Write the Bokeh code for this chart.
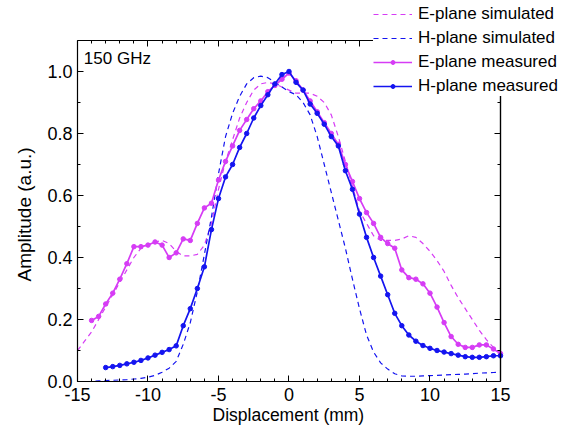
from bokeh.plotting import figure
from bokeh.models import (LinearAxis, Range1d, NumeralTickFormatter, SingleIntervalTicker, FixedTicker,
                          Legend, LegendItem, Label, Title)
from bokeh.embed import file_html
from bokeh.resources import INLINE

# ---------------- data ----------------
x_sim = [-15.0, -14.5, -14.0, -13.5, -13.0, -12.5, -12.0, -11.5, -11.0, -10.5, -10.0, -9.5, -9.0, -8.5,
         -8.0, -7.5, -7.0, -6.5, -6.0, -5.5, -5.0, -4.5, -4.0, -3.5, -3.0, -2.5, -2.0, -1.5, -1.0, -0.5,
         0.0, 0.5, 1.0, 1.5, 2.0, 2.5, 3.0, 3.5, 4.0, 4.5, 5.0, 5.5, 6.0, 6.5, 7.0, 7.5, 8.0, 8.5, 9.0,
         9.5, 10.0, 10.5, 11.0, 11.5, 12.0, 12.5, 13.0, 13.5, 14.0, 14.5, 15.0]
e_sim = [0.10, 0.13, 0.16, 0.20, 0.24, 0.28, 0.32, 0.36, 0.40, 0.43, 0.44, 0.45, 0.455, 0.445,
         0.42, 0.405, 0.405, 0.41, 0.44, 0.51, 0.62, 0.71, 0.78, 0.85, 0.90, 0.94, 0.96, 0.965, 0.96, 0.95,
         0.94, 0.93, 0.93, 0.93, 0.92, 0.90, 0.86, 0.79, 0.71, 0.63, 0.55, 0.51, 0.47, 0.455, 0.455, 0.455,
         0.46, 0.47, 0.465, 0.445, 0.42, 0.39, 0.355, 0.31, 0.27, 0.235, 0.20, 0.165, 0.135, 0.11, 0.09]
h_sim = [0.0, 0.0, 0.0, 0.002, 0.003, 0.004, 0.005, 0.006, 0.008, 0.010, 0.014, 0.02, 0.03, 0.043,
         0.065, 0.12, 0.19, 0.29, 0.41, 0.53, 0.67, 0.79, 0.865, 0.92, 0.96, 0.98, 0.985, 0.98, 0.965, 0.95,
         0.935, 0.925, 0.90, 0.86, 0.79, 0.70, 0.61, 0.52, 0.43, 0.33, 0.235, 0.15, 0.095, 0.06, 0.04, 0.025,
         0.018, 0.017, 0.017, 0.018, 0.019, 0.02, 0.021, 0.022, 0.023, 0.024, 0.025, 0.027, 0.028, 0.029, 0.03]

x_e_meas = [-14.0, -13.5, -13.0, -12.5, -12.0, -11.5, -11.0, -10.5, -10.0, -9.5, -9.0, -8.5, -8.0, -7.5,
            -7.0, -6.5, -6.0, -5.5, -5.0, -4.5, -4.0, -3.5, -3.0, -2.5, -2.0, -1.5, -1.0, -0.5, 0.0, 0.5,
            1.0, 1.5, 2.0, 2.5, 3.0, 3.5, 4.0, 4.5, 5.0, 5.5, 6.0, 6.5, 7.0, 7.5, 8.0, 8.5, 9.0, 9.5, 10.0,
            10.5, 11.0, 11.5, 12.0, 12.5, 13.0, 13.5, 14.0, 14.5, 15.0]
e_meas = [0.197, 0.21, 0.25, 0.285, 0.33, 0.38, 0.435, 0.435, 0.44, 0.45, 0.44, 0.40, 0.415, 0.46,
          0.455, 0.51, 0.56, 0.575, 0.65, 0.71, 0.76, 0.81, 0.845, 0.88, 0.905, 0.935, 0.955, 0.975, 0.995, 0.97,
          0.94, 0.905, 0.87, 0.835, 0.80, 0.765, 0.70, 0.645, 0.59, 0.545, 0.51, 0.465, 0.445, 0.43, 0.36, 0.335,
          0.33, 0.315, 0.285, 0.24, 0.19, 0.145, 0.12, 0.11, 0.11, 0.118, 0.118, 0.105, 0.09]

x_h_meas = [-13.0, -12.5, -12.0, -11.5, -11.0, -10.5, -10.0, -9.5, -9.0, -8.5, -8.0, -7.5, -7.0, -6.5,
            -6.0, -5.5, -5.0, -4.5, -4.0, -3.5, -3.0, -2.5, -2.0, -1.5, -1.0, -0.5, 0.0, 0.5, 1.0, 1.5,
            2.0, 2.5, 3.0, 3.5, 4.0, 4.5, 5.0, 5.5, 6.0, 6.5, 7.0, 7.5, 8.0, 8.5, 9.0, 9.5, 10.0, 10.5,
            11.0, 11.5, 12.0, 12.5, 13.0, 13.5, 14.0, 14.5, 15.0]
h_meas = [0.045, 0.048, 0.052, 0.057, 0.062, 0.068, 0.076, 0.085, 0.094, 0.103, 0.115, 0.18, 0.235, 0.30,
          0.37, 0.49, 0.59, 0.66, 0.70, 0.755, 0.80, 0.85, 0.89, 0.925, 0.96, 0.99, 1.0, 0.965, 0.94, 0.895,
          0.865, 0.83, 0.79, 0.76, 0.68, 0.62, 0.54, 0.465, 0.40, 0.34, 0.28, 0.22, 0.18, 0.15, 0.13, 0.116,
          0.107, 0.10, 0.095, 0.09, 0.085, 0.08, 0.078, 0.078, 0.08, 0.083, 0.083]

labels = ["E-plane simulated", "H-plane simulated", "E-plane measured", "H-plane measured"]
annotation = "150 GHz"
x_title = "Displacement (mm)"
y_title = "Amplitude (a.u.)"

X_MIN, X_MAX = -15, 15
Y_MIN, Y_MAX = 0.0, 1.1

MAG = "#D63CF5"
BLUE = "#1414F0"
FONT = "Liberation Sans"

# frame covers the whole area right/top of the axes so the legend is not clipped;
# the visible box is drawn by axes with bounds / fixed locations
p = figure(width=564, height=431, output_backend="svg", toolbar_location=None,
           x_range=Range1d(X_MIN, 19.54), y_range=Range1d(Y_MIN, 1.229),
           min_border_left=77, min_border_right=0, min_border_top=0, min_border_bottom=50)
p.xgrid.visible = False
p.ygrid.visible = False
p.outline_line_color = None
p.background_fill_color = "white"
p.border_fill_color = "white"

r1 = p.line(x_sim, e_sim, line_color=MAG, line_width=1.2, line_dash="5 4")
r2 = p.line(x_sim, h_sim, line_color=BLUE, line_width=1.2, line_dash="5 4")
r3 = p.line(x_e_meas, e_meas, line_color=MAG, line_width=1.7)
r3b = p.scatter(x_e_meas, e_meas, size=4.5, marker="circle", fill_color=MAG, line_color=MAG)
r4 = p.line(x_h_meas, h_meas, line_color=BLUE, line_width=1.7)
r4b = p.scatter(x_h_meas, h_meas, size=4.5, marker="circle", fill_color=BLUE, line_color=BLUE)

p.add_layout(Label(x=-14.55, y=1.042, text=annotation, text_font=FONT, text_font_size="17px",
                   text_baseline="middle", text_color="black"))

def base_axis(ax):
    ax.major_tick_in = 6
    ax.major_tick_out = 0
    ax.minor_tick_in = 3
    ax.minor_tick_out = 0
    ax.axis_line_color = "black"
    ax.axis_line_width = 1.2
    ax.major_tick_line_color = "black"
    ax.minor_tick_line_color = "black"
    ax.major_label_text_font = FONT
    ax.major_label_text_font_size = "18px"
    ax.major_label_text_color = "black"

xa = p.xaxis[0]
base_axis(xa)
xa.ticker = SingleIntervalTicker(interval=5, num_minor_ticks=5)
xa.bounds = (X_MIN, X_MAX)
xa.formatter = NumeralTickFormatter(format="0")
xa.major_label_standoff = 6

ya = p.yaxis[0]
base_axis(ya)
ya.ticker = SingleIntervalTicker(interval=0.2, num_minor_ticks=2)
ya.bounds = (Y_MIN, Y_MAX)
ya.formatter = NumeralTickFormatter(format="0.0")
ya.major_label_standoff = 5

# axis titles, positioned along the data box (not the whole frame)
p.add_layout(Title(text=x_title, align="left", offset=135, vertical_align="top", standoff=3,
                   text_font=FONT, text_font_size="17.5px", text_font_style="normal",
                   text_color="black"), "below")
p.add_layout(Title(text=y_title, align="left", offset=100, vertical_align="bottom", standoff=20,
                   text_font=FONT, text_font_size="19px", text_font_style="normal",
                   text_color="black"), "left")

# mirror axes (ticks only, no labels) on top and right of the data box
x_major = list(range(X_MIN, X_MAX + 1, 5))
x_minor = list(range(X_MIN, X_MAX + 1, 1))
y_major = [i / 5 for i in range(0, 6)]
y_minor = [i / 10 for i in range(0, 12)]

def mirror(ticks, tick_len, loc, bounds, side):
    ax = LinearAxis(ticker=FixedTicker(ticks=[], minor_ticks=ticks), fixed_location=loc, bounds=bounds)
    base_axis(ax)
    ax.minor_tick_in = tick_len
    ax.major_label_standoff = 0
    p.add_layout(ax, side)

mirror(x_minor, 3, Y_MAX, (X_MIN, X_MAX), "above")
mirror(x_major, 6, Y_MAX, (X_MIN, X_MAX), "above")
mirror(y_minor, 3, X_MAX, (Y_MIN, Y_MAX), "right")
mirror(y_major, 6, X_MAX, (Y_MIN, Y_MAX), "right")

legend = Legend(items=[
    LegendItem(label=labels[0], renderers=[r1]),
    LegendItem(label=labels[1], renderers=[r2]),
    LegendItem(label=labels[2], renderers=[r3, r3b]),
    LegendItem(label=labels[3], renderers=[r4, r4b]),
], location=(296, 285))
legend.label_text_font = FONT
legend.label_text_font_size = "17px"
legend.label_text_color = "black"
legend.glyph_width = 39
legend.glyph_height = 10
legend.label_height = 18
legend.spacing = 4
legend.padding = 0
legend.margin = 0
legend.label_standoff = 6
legend.border_line_color = None
legend.background_fill_color = "white"
legend.background_fill_alpha = 1.0
p.add_layout(legend, "center")

open("out.html", "w").write(file_html(p, INLINE))
